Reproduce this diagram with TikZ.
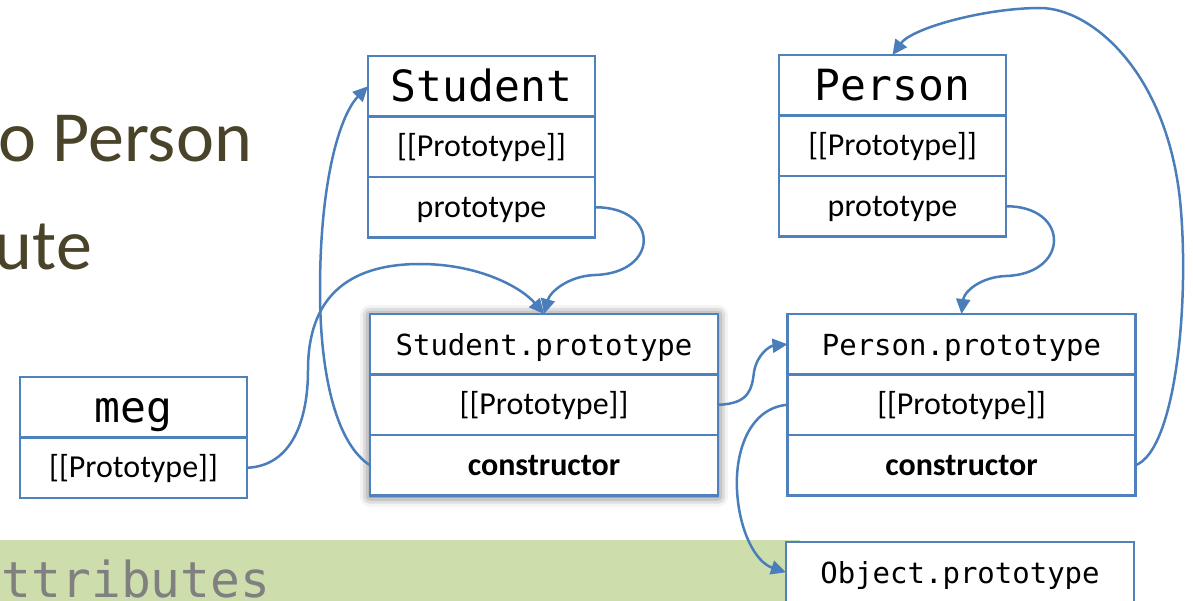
\documentclass[tikz,border=0pt]{standalone}
\usepackage{fontspec}
\setmainfont{Carlito}
\newfontfamily\codefont{DejaVu Sans Mono}
\usetikzlibrary{arrows.meta,shadows.blur,fit,backgrounds}

\definecolor{boxblue}{RGB}{79,129,189}
\definecolor{linkblue}{RGB}{74,126,187}
\definecolor{titleolive}{RGB}{73,68,41}
\definecolor{bandgreen}{RGB}{205,221,172}
\definecolor{bandtext}{RGB}{128,128,128}

\tikzset{
  row/.style={draw=boxblue, line width=2.6pt, fill=white,
    minimum width=227pt, minimum height=60.5pt,
    inner sep=0pt, outer sep=0pt,
    text height=20pt, text depth=0pt,
    font=\fontsize{32}{38}\selectfont},
  widerow/.style={row, minimum width=348pt},
  namerow/.style={text height=31pt, font=\codefont\fontsize{43}{50}\selectfont},
  protorow/.style={text height=22pt, font=\codefont\fontsize{29}{34}\selectfont},
  boldrow/.style={font=\bfseries\fontsize{32}{38}\selectfont},
  link/.style={draw=linkblue, line width=2.5pt,
    -{Triangle[length=15pt,width=14pt]}},
  heading/.style={text=titleolive, inner sep=0pt,
    font=\fontsize{72}{82}\selectfont}
}

\begin{document}
\begin{tikzpicture}[x=1pt,y=-1pt]
\useasboundingbox (0,0) rectangle (1193,601);
\clip (0,0) rectangle (1193,601);

% heading fragments and the green band
\node[heading, anchor=base east] (h1) at (252,162) {o Person};
\node[heading, anchor=base east] (h2) at (92,270) {ute};
\fill[bandgreen] (0,540) rectangle (800,601);
\node[anchor=base west, inner sep=0pt, text=bandtext,
  font=\codefont\fontsize{49.5}{56}\selectfont] (band) at (-28,597) {attributes};

% Student constructor
\node[row, namerow] (s1) at (481.5,86.25) {Student};
\node[row, anchor=north] (s2) at (s1.south) {[[Prototype]]};
\node[row, anchor=north] (s3) at (s2.south) {prototype};

% Person constructor
\node[row, namerow] (p1) at (892.5,85.25) {Person};
\node[row, anchor=north] (p2) at (p1.south) {[[Prototype]]};
\node[row, anchor=north] (p3) at (p2.south) {prototype};

% Student.prototype object
\node[widerow, protorow] (sp1) at (544,344.25) {Student.prototype};
\node[widerow, anchor=north] (sp2) at (sp1.south) {[[Prototype]]};
\node[widerow, boldrow, anchor=north] (sp3) at (sp2.south) {constructor};
\begin{scope}[on background layer]
  \node[fit=(sp1)(sp3), inner sep=0pt, fill=white,
    blur shadow={shadow xshift=0pt, shadow yshift=-1pt,
      shadow blur radius=10pt, shadow opacity=70}] (spshade) {};
\end{scope}

% Person.prototype object
\node[widerow, protorow] (pp1) at (961.5,344.25) {Person.prototype};
\node[widerow, anchor=north] (pp2) at (pp1.south) {[[Prototype]]};
\node[widerow, boldrow, anchor=north] (pp3) at (pp2.south) {constructor};

% meg instance
\node[row, namerow] (m1) at (133.5,407.25) {meg};
\node[row, anchor=north] (m2) at (m1.south) {[[Prototype]]};

% Object.prototype
\node[widerow, protorow] (op) at (960,572.25) {Object.prototype};

% links
\draw[link] (m2.east) .. controls (292,466) and (308,420) .. (308,370)
  .. controls (308,300) and (345,264) .. (420,264)
  .. controls (480,264) and (522,288) .. (sp1.north);
\draw[link] (sp3.west) .. controls (338,445) and (320,380) .. (320,290)
  .. controls (320,180) and (340,115) .. (s1.west);
\draw[link] (s3.east) .. controls (660,207) and (660,273) .. (595,275)
  .. controls (568,276) and (550,292) .. (sp1.north);
\draw[link] (p3.east) .. controls (1070,206) and (1070,274) .. (1006,276)
  .. controls (980,277) and (964,292) .. (pp1.north);
\draw[link] (pp3.east) .. controls (1176,450) and (1190,300) .. (1180,200)
  .. controls (1166,70) and (1090,8) .. (1040,8)
  .. controls (985,8) and (912,28) .. (p1.north);
\draw[link] (sp2.east) .. controls (750,404) and (752,388) .. (754,372)
  .. controls (757,354) and (770,346) .. (pp1.west);
\draw[link] (pp2.west) .. controls (750,408) and (735,450) .. (737,490)
  .. controls (739,530) and (755,562) .. (op.west);
\end{tikzpicture}
\end{document}
